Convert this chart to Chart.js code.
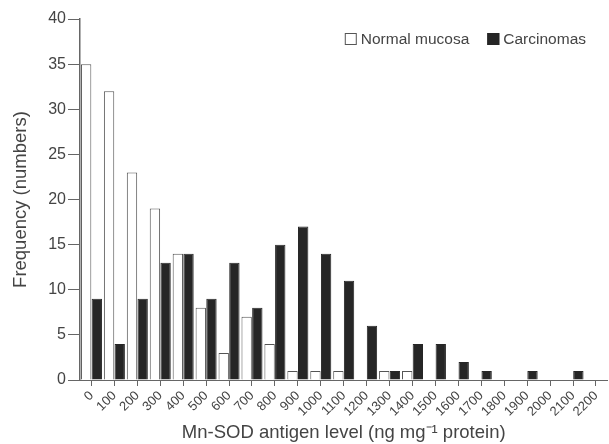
<!DOCTYPE html>
<html>
<head>
<meta charset="utf-8">
<script src="https://cdn.jsdelivr.net/npm/chart.js@4/dist/chart.umd.min.js"></script>
<style>
  html, body { margin: 0; padding: 0; background: #fff; }
  #wrap { width: 609px; height: 444px; }
</style>
</head>
<body>
<div id="wrap"><canvas id="myChart" width="609" height="444"></canvas></div>
<script>
// Niveles de Mn-SOD (ng/mg proteína)
var levels = ['0', '100', '200', '300', '400', '500', '600', '700', '800', '900', '1000',
  '1100', '1200', '1300', '1400', '1500', '1600', '1700', '1800', '1900', '2000', '2100', '2200'];
var normalMucosa = [35, 32, 23, 19, 14, 8, 3, 7, 4, 1, 1, 1, 0, 1, 1, 0, 0, 0, 0, 0, 0, 0, 0];
var carcinomas = [9, 4, 9, 13, 14, 9, 13, 8, 15, 17, 14, 11, 6, 1, 4, 4, 2, 1, 0, 1, 0, 1, 0];
var yTicks = [0, 5, 10, 15, 20, 25, 30, 35, 40];

var fontFam = '"Liberation Sans", Arial, Helvetica, sans-serif';
var textCol = '#444';
var axisCol = '#666';

Chart.defaults.font.family = fontFam;
Chart.defaults.color = textCol;

// Leyenda dibujada a mano dentro del área del gráfico (arriba a la derecha)
var insideLegend = {
  id: 'insideLegend',
  afterDraw: function (chart) {
    var c = chart.ctx;
    var sets = chart.data.datasets;
    var box = 12, gapText = 4, gapItem = 18;
    c.save();
    c.font = '15.5px ' + fontFam;
    c.textBaseline = 'middle';
    var widths = sets.map(function (d) { return box + gapText + c.measureText(d.label).width; });
    var total = widths.reduce(function (a, b) { return a + b; }, 0) + gapItem * (sets.length - 1);
    var x = 586 - total, yMid = 39;
    sets.forEach(function (d, i) {
      c.fillStyle = d.backgroundColor;
      c.fillRect(x, yMid - box / 2, box, box);
      c.strokeStyle = d.borderColor;
      c.lineWidth = 1;
      c.strokeRect(x + 0.5, yMid - box / 2 + 0.5, box - 1, box - 1);
      c.fillStyle = textCol;
      c.fillText(d.label, x + box + gapText, yMid + 1);
      x += widths[i] + gapItem;
    });
    c.restore();
  }
};

var ctx = document.getElementById('myChart').getContext('2d');
var myChart = new Chart(ctx, {
  type: 'bar',
  data: {
    labels: levels,
    datasets: [{
      label: 'Normal mucosa',
      data: normalMucosa,
      backgroundColor: '#ffffff',
      borderColor: '#555',
      borderWidth: 1
    }, {
      label: 'Carcinomas',
      data: carcinomas,
      backgroundColor: '#262626',
      borderColor: '#262626',
      borderWidth: 1
    }]
  },
  plugins: [insideLegend],
  options: {
    responsive: false,
    animation: false,
    layout: { padding: { top: 19, left: 0, right: 0, bottom: 0 } },
    datasets: {
      bar: { categoryPercentage: 0.93, barPercentage: 0.97 }
    },
    plugins: {
      legend: { display: false },
      tooltip: { enabled: false }
    },
    scales: {
      x: {
        offset: true,
        grid: { display: true, drawOnChartArea: false, offset: false, tickLength: 6, color: axisCol },
        border: { color: axisCol, width: 1 },
        ticks: {
          autoSkip: false,
          minRotation: 45,
          maxRotation: 45,
          padding: 2,
          font: { size: 13 },
          color: textCol
        },
        title: {
          display: true,
          text: 'Mn-SOD antigen level (ng mg\u207B\u00B9 protein)',
          font: { size: 18.5 },
          color: textCol,
          padding: { top: 0, bottom: 0 }
        },
        afterFit: function (scale) { scale.height = 64; }
      },
      y: {
        min: 0,
        max: 40,
        afterBuildTicks: function (scale) {
          scale.ticks = yTicks.map(function (v) { return { value: v }; });
        },
        grid: { display: true, drawOnChartArea: false, tickLength: 12, color: axisCol },
        border: { color: axisCol, width: 1.5 },
        ticks: {
          padding: 2,
          font: { size: 16 },
          color: textCol
        },
        title: {
          display: true,
          text: 'Frequency (numbers)',
          font: { size: 18.5 },
          color: textCol,
          padding: { top: 10, bottom: 0 }
        },
        afterFit: function (scale) { scale.width = 80; }
      }
    }
  }
});
</script>
</body>
</html>
